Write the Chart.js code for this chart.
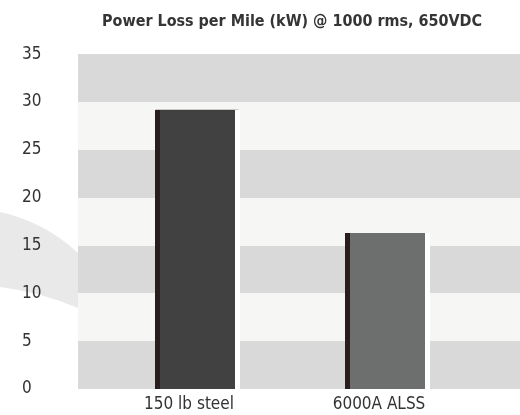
<!DOCTYPE html>
<html>
<head>
<meta charset="utf-8">
<script src="https://cdn.jsdelivr.net/npm/chart.js@4/dist/chart.umd.min.js"></script>
<style>
  html, body { margin: 0; padding: 0; background: #fff; }
  #wrap { width: 520px; height: 415px; }
</style>
</head>
<body>
<div id="wrap"><canvas id="lossChart"></canvas></div>
<script>
const categories = ['150 lb steel', '6000A ALSS'];
const lossValues = [29.2, 16.3];
const barColors = ['#414141', '#6d6e6e'];
const yTicks = [0, 5, 10, 15, 20, 25, 30, 35];
const chartTitle = 'Power Loss per Mile (kW) @ 1000 rms, 650VDC';

const FONT = "'DejaVu Sans Condensed', 'Liberation Sans Narrow', Arial, sans-serif";

// grey swoosh on the left plus the striped plot background
const backdrop = {
    id: 'backdrop',
    beforeDraw(chart) {
        const { ctx, chartArea, scales } = chart;
        const y = scales.y;
        const left = chartArea.left - 24;

        ctx.save();
        ctx.fillStyle = '#e9e9e9';
        ctx.beginPath();
        ctx.moveTo(0, 212);
        ctx.quadraticCurveTo(45, 222, left, 253);
        ctx.lineTo(left, 308);
        ctx.quadraticCurveTo(40, 292, 0, 287);
        ctx.closePath();
        ctx.fill();

        for (let i = 0; i < yTicks.length - 1; i++) {
            const top = Math.round(y.getPixelForValue(yTicks[i + 1]));
            const bottom = Math.round(y.getPixelForValue(yTicks[i]));
            ctx.fillStyle = i % 2 === 0 ? '#d9d9d9' : '#f6f6f5';
            ctx.fillRect(left, top, chart.width - left, bottom - top);
        }
        ctx.restore();
    }
};

// dark left edge and white right edge on each bar
const barEdges = {
    id: 'barEdges',
    afterDatasetsDraw(chart) {
        const { ctx } = chart;
        const meta = chart.getDatasetMeta(0);
        ctx.save();
        meta.data.forEach(bar => {
            const left = Math.round(bar.x - bar.width / 2);
            const right = Math.round(bar.x + bar.width / 2);
            const top = Math.round(bar.y);
            const base = Math.round(bar.base);
            ctx.fillStyle = '#2a1d1d';
            ctx.fillRect(left, top, 5, base - top);
            ctx.fillStyle = '#ffffff';
            ctx.fillRect(right - 4, top, 5, base - top);
        });
        ctx.restore();
    }
};

const canvas = document.getElementById('lossChart');

new Chart(canvas, {
    type: 'bar',
    data: {
        labels: categories,
        datasets: [
            {
                data: lossValues,
                backgroundColor: barColors,
                borderWidth: 0,
                categoryPercentage: 1,
                barPercentage: 0.437,
            },
        ],
    },
    options: {
        responsive: true,
        maintainAspectRatio: false,
        animation: false,
        layout: {
            padding: { left: 22, right: 38, top: 0, bottom: 0 },
        },
        plugins: {
            legend: { display: false },
            tooltip: { enabled: false },
            title: {
                display: true,
                text: chartTitle,
                fullSize: false,
                color: '#353535',
                font: { family: FONT, size: 16, weight: 'bold' },
                padding: { top: 12, bottom: 23 },
            },
        },
        scales: {
            x: {
                grid: { display: false, drawTicks: false },
                border: { display: false },
                ticks: {
                    color: '#333333',
                    font: { family: FONT, size: 17 },
                    padding: 5,
                    labelOffset: -8,
                },
                afterFit(scale) {
                    scale.height = 26;
                },
            },
            y: {
                min: 0,
                max: 35,
                grid: { display: false, drawTicks: false },
                border: { display: false },
                ticks: {
                    stepSize: 5,
                    color: '#333333',
                    crossAlign: 'far',
                    font: { family: FONT, size: 17 },
                },
                afterFit(scale) {
                    scale.width = 80;
                },
            },
        },
    },
    plugins: [backdrop, barEdges],
});
</script>
</body>
</html>
